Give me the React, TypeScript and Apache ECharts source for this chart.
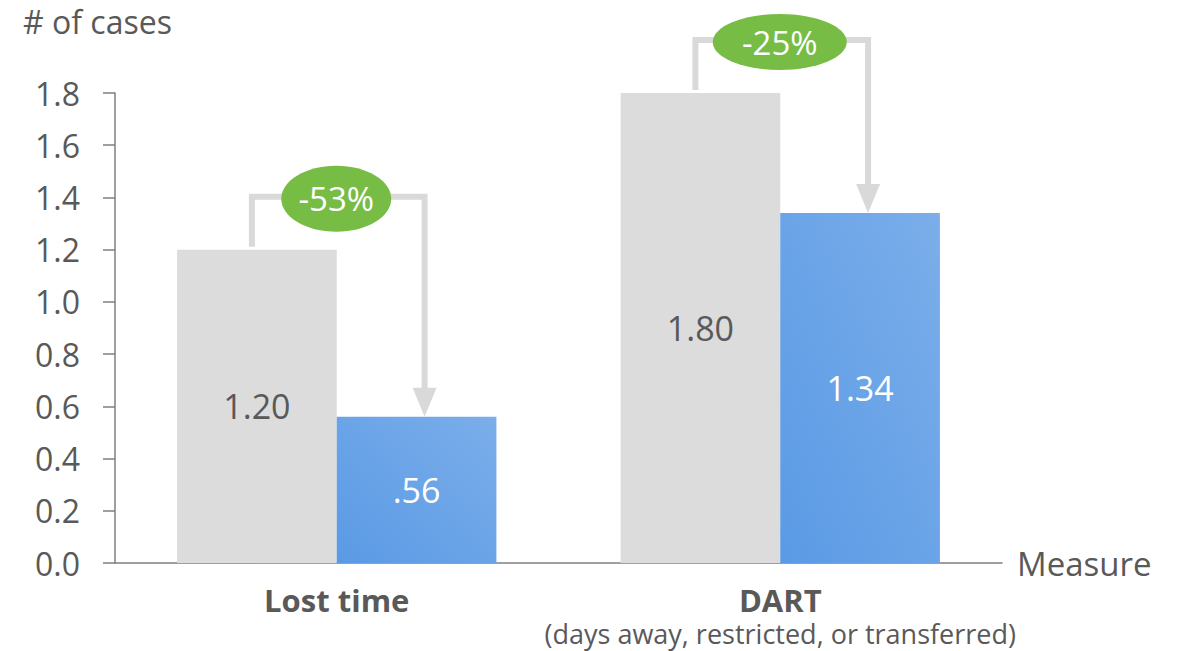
import React, { useEffect, useRef } from "react";
import * as echarts from "echarts";

const categories = ["Lost time", "DART"];
const subtitles = ["", "(days away, restricted, or transferred)"];
const beforeValues = [1.2, 1.8];
const afterValues = [0.56, 1.34];
const changeLabels = ["-53%", "-25%"];
const ellipseRx = [55, 67];
const ellipseRy = [33, 28];

const FONT = "'Open Sans', 'Noto Sans', sans-serif";
const TXT = "#595959";
const ARROW = "#D9D9D9";
const GREEN = "#77BC45";

function fmt(v: number) {
  const s = v.toFixed(2);
  return v < 1 ? s.replace(/^0/, "") : s;
}

export default function App() {
  const ref = useRef<HTMLDivElement>(null);
  useEffect(() => {
    if (!ref.current) return;
    const chart = echarts.init(ref.current, null, { renderer: "svg" });
    const blue = new echarts.graphic.LinearGradient(0, 1, 1, 0, [
      { offset: 0, color: "#5A9AE5" },
      { offset: 1, color: "#7BAEEA" },
    ]);
    chart.setOption({
      animation: false,
      textStyle: { fontFamily: FONT },
      title: {
        text: "# of cases",
        left: 18,
        top: 0,
        textStyle: { fontFamily: FONT, fontSize: 32, fontWeight: "normal", color: TXT },
      },
      grid: { left: 115, right: 176, top: 93, bottom: 88, containLabel: false },
      xAxis: {
        type: "category",
        data: categories,
        name: "Measure",
        nameLocation: "end",
        nameGap: 15,
        nameTextStyle: { fontFamily: FONT, fontSize: 33, color: TXT, verticalAlign: "middle" },
        axisLine: { show: true, lineStyle: { color: "#7F7F7F", width: 1.5 } },
        axisTick: { show: false },
        axisLabel: {
          margin: 19,
          interval: 0,
          verticalAlign: "top",
          formatter: (v: string, i: number) =>
            subtitles[i] ? `{b|${v}}\n{s|${subtitles[i]}}` : `{b|${v}}`,
          rich: {
            b: { fontFamily: FONT, fontSize: 31, fontWeight: "bold", color: TXT, lineHeight: 36 },
            s: { fontFamily: FONT, fontSize: 27, color: TXT, lineHeight: 30 },
          },
        },
      },
      yAxis: {
        type: "value",
        min: 0,
        max: 1.8,
        interval: 0.2,
        axisLine: { show: true, lineStyle: { color: "#7F7F7F", width: 1.5 } },
        axisTick: { show: true, inside: false, length: 12, lineStyle: { color: "#7F7F7F", width: 1.5 } },
        splitLine: { show: false },
        axisLabel: {
          margin: 35,
          fontFamily: FONT,
          fontSize: 32,
          color: TXT,
          formatter: (v: number) => v.toFixed(1),
        },
      },
      series: [
        {
          type: "bar",
          data: beforeValues,
          barGap: "0%",
          barCategoryGap: "28%",
          itemStyle: { color: "#DCDCDC" },
          label: {
            show: true,
            position: "inside",
            fontFamily: FONT,
            fontSize: 34,
            color: TXT,
            formatter: (p: any) => fmt(p.value),
          },
        },
        {
          type: "bar",
          data: afterValues,
          barGap: "0%",
          barCategoryGap: "28%",
          itemStyle: { color: blue },
          label: {
            show: true,
            position: "inside",
            fontFamily: FONT,
            fontSize: 34,
            color: "#FFFFFF",
            formatter: (p: any) => fmt(p.value),
          },
        },
      ],
    });

    const graphics: any[] = [];
    const c0 = chart.convertToPixel({ xAxisIndex: 0 }, 0) as number;
    const c1 = chart.convertToPixel({ xAxisIndex: 0 }, 1) as number;
    const band = Math.abs(c1 - c0);
    const bw = (band * (1 - 0.28)) / 2;
    const yPx = (v: number) => chart.convertToPixel({ yAxisIndex: 0 }, v) as number;
    categories.forEach((_, i) => {
      const cx = chart.convertToPixel({ xAxisIndex: 0 }, i) as number;
      const lx = cx - bw / 2 - 5;
      const rx = cx + bw / 2 + 8;
      const grayTop = yPx(beforeValues[i]);
      const blueTop = yPx(afterValues[i]);
      const hy = grayTop - 53;
      const headH = 29;
      graphics.push({
        type: "polyline",
        shape: { points: [[lx, grayTop - 3], [lx, hy], [rx, hy], [rx, blueTop - headH + 1]] },
        style: { stroke: ARROW, lineWidth: 6, fill: null },
        z: 10,
      });
      graphics.push({
        type: "polygon",
        shape: { points: [[rx - 12, blueTop - headH], [rx + 12, blueTop - headH], [rx, blueTop]] },
        style: { fill: ARROW },
        z: 10,
      });
      const ex = (lx + rx) / 2 - 2;
      graphics.push({
        type: "ellipse",
        shape: { cx: ex, cy: hy + 2, rx: ellipseRx[i], ry: ellipseRy[i] },
        style: { fill: GREEN },
        z: 11,
      });
      graphics.push({
        type: "text",
        x: ex,
        y: hy + 2,
        style: {
          text: changeLabels[i],
          fontFamily: FONT,
          fontSize: 33,
          fill: "#FFFFFF",
          align: "center",
          verticalAlign: "middle",
        },
        z: 12,
      });
    });
    chart.setOption({ graphic: graphics });

    return () => chart.dispose();
  }, []);
  return (
    <div
      ref={ref}
      style={{ position: "fixed", left: 0, top: 0, width: 1178, height: 651, background: "#fff" }}
    />
  );
}
